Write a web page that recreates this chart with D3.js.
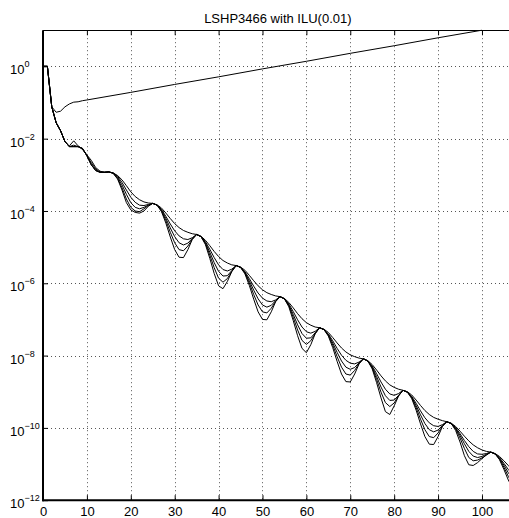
<!DOCTYPE html>
<html>
<head>
<meta charset="utf-8">
<script src="https://cdn.jsdelivr.net/npm/d3@7"></script>
<style>
  html, body { margin: 0; padding: 0; background: #fff; }
  svg { display: block; font-family: "Liberation Sans", Arial, Helvetica, sans-serif; }
</style>
</head>
<body>
<svg id="chart" width="509" height="518"></svg>
<script>
// ---- data -------------------------------------------------------------
const chartTitle = "LSHP3466 with ILU(0.01)";
const xTicks = [0, 10, 20, 30, 40, 50, 60, 70, 80, 90, 100];
const yTickExponents = [0, -2, -4, -6, -8, -10, -12];

// iteration index shared by the five converging runs
const iterations = d3.range(0, 108);

// log10 of the residual norm, one value per iteration
const residualA = [
  0, 0, -1.12, -1.56, -1.78, -2.08, -2.20, -2.06, -2.20, -2.30, -2.45, -2.60, -2.80, -2.90, -2.93,
  -2.92, -2.95, -3.02, -3.14, -3.30, -3.47, -3.60, -3.69, -3.75, -3.78, -3.79,
  -3.83, -3.92, -4.06, -4.21, -4.35, -4.46, -4.54, -4.59, -4.63, -4.65,
  -4.70, -4.81, -4.96, -5.12, -5.26, -5.37, -5.44, -5.49, -5.51,
  -5.55, -5.64, -5.78, -5.93, -6.07, -6.18, -6.26, -6.31, -6.35, -6.37,
  -6.42, -6.53, -6.68, -6.84, -6.98, -7.09, -7.16, -7.21, -7.23,
  -7.27, -7.36, -7.50, -7.65, -7.79, -7.90, -7.98, -8.03, -8.07, -8.09,
  -8.14, -8.25, -8.40, -8.56, -8.70, -8.81, -8.88, -8.93, -8.96,
  -9.00, -9.09, -9.23, -9.38, -9.52, -9.63, -9.71, -9.76, -9.80, -9.83,
  -9.87, -9.96, -10.09, -10.23, -10.36, -10.47, -10.55, -10.61, -10.65, -10.67,
  -10.71, -10.79, -10.91, -11.04, -11.17
];
const residualB = [
  0, 0, -1.12, -1.56, -1.78, -2.08, -2.22, -2.18, -2.22, -2.28, -2.47, -2.66, -2.84, -2.92, -2.93,
  -2.92, -2.95, -3.04, -3.21, -3.42, -3.62, -3.76, -3.84, -3.85, -3.82, -3.79,
  -3.84, -3.96, -4.15, -4.36, -4.55, -4.69, -4.77, -4.79, -4.74, -4.65,
  -4.71, -4.85, -5.06, -5.29, -5.49, -5.62, -5.66, -5.61, -5.51,
  -5.56, -5.68, -5.87, -6.08, -6.27, -6.41, -6.49, -6.51, -6.46, -6.37,
  -6.43, -6.57, -6.78, -7.01, -7.21, -7.34, -7.38, -7.33, -7.23,
  -7.28, -7.40, -7.59, -7.80, -7.99, -8.13, -8.21, -8.23, -8.18, -8.09,
  -8.15, -8.29, -8.50, -8.73, -8.93, -9.06, -9.10, -9.05, -8.96,
  -9.01, -9.13, -9.32, -9.53, -9.72, -9.86, -9.94, -9.96, -9.91, -9.83,
  -9.88, -9.99, -10.16, -10.35, -10.52, -10.65, -10.72, -10.73, -10.71, -10.67,
  -10.72, -10.82, -10.98, -11.15, -11.29
];
const residualC = [
  0, 0, -1.12, -1.56, -1.78, -2.08, -2.22, -2.22, -2.22, -2.27, -2.47, -2.72, -2.88, -2.93, -2.93,
  -2.92, -2.95, -3.07, -3.28, -3.54, -3.77, -3.90, -3.94, -3.90, -3.84, -3.79,
  -3.84, -3.98, -4.21, -4.47, -4.71, -4.88, -4.94, -4.89, -4.76, -4.65,
  -4.71, -4.88, -5.14, -5.43, -5.67, -5.80, -5.79, -5.65, -5.51,
  -5.56, -5.70, -5.93, -6.19, -6.43, -6.60, -6.66, -6.61, -6.48, -6.37,
  -6.43, -6.60, -6.86, -7.15, -7.39, -7.52, -7.51, -7.37, -7.23,
  -7.28, -7.42, -7.65, -7.91, -8.15, -8.32, -8.38, -8.33, -8.20, -8.09,
  -8.15, -8.32, -8.58, -8.87, -9.11, -9.24, -9.23, -9.10, -8.96,
  -9.01, -9.15, -9.38, -9.64, -9.88, -10.05, -10.11, -10.06, -9.93, -9.83,
  -9.88, -10.01, -10.21, -10.44, -10.65, -10.78, -10.82, -10.79, -10.73, -10.67,
  -10.72, -10.84, -11.03, -11.24, -11.41
];
const residualD = [
  0, 0, -1.12, -1.56, -1.78, -2.08, -2.22, -2.22, -2.22, -2.27, -2.47, -2.72, -2.88, -2.93, -2.93,
  -2.92, -2.96, -3.10, -3.36, -3.67, -3.90, -4.00, -4.02, -3.94, -3.85, -3.79,
  -3.84, -4.00, -4.27, -4.59, -4.88, -5.07, -5.10, -4.97, -4.78, -4.65,
  -4.71, -4.90, -5.22, -5.57, -5.86, -5.97, -5.87, -5.67, -5.51,
  -5.56, -5.72, -5.99, -6.31, -6.60, -6.79, -6.82, -6.69, -6.50, -6.37,
  -6.43, -6.62, -6.94, -7.29, -7.58, -7.69, -7.59, -7.39, -7.23,
  -7.28, -7.44, -7.71, -8.03, -8.32, -8.51, -8.54, -8.41, -8.22, -8.09,
  -8.15, -8.34, -8.66, -9.01, -9.30, -9.41, -9.31, -9.11, -8.96,
  -9.01, -9.17, -9.44, -9.76, -10.05, -10.24, -10.27, -10.14, -9.95, -9.83,
  -9.88, -10.03, -10.28, -10.57, -10.82, -10.91, -10.89, -10.83, -10.75, -10.67,
  -10.72, -10.86, -11.09, -11.34, -11.55
];
const residualE = [
  0, 0, -1.12, -1.56, -1.78, -2.08, -2.22, -2.22, -2.22, -2.27, -2.47, -2.72, -2.88, -2.93, -2.93,
  -2.92, -2.96, -3.12, -3.42, -3.77, -3.97, -4.04, -4.06, -4.00, -3.87, -3.79,
  -3.84, -4.02, -4.34, -4.72, -5.07, -5.28, -5.29, -5.07, -4.79, -4.65,
  -4.71, -4.93, -5.31, -5.73, -6.07, -6.15, -5.95, -5.68, -5.51,
  -5.56, -5.74, -6.06, -6.44, -6.79, -7.00, -7.01, -6.79, -6.51, -6.37,
  -6.43, -6.65, -7.03, -7.45, -7.80, -7.92, -7.70, -7.40, -7.23,
  -7.28, -7.46, -7.78, -8.16, -8.51, -8.72, -8.73, -8.51, -8.23, -8.09,
  -8.15, -8.37, -8.75, -9.17, -9.55, -9.63, -9.39, -9.12, -8.96,
  -9.01, -9.19, -9.51, -9.89, -10.24, -10.45, -10.46, -10.24, -9.96, -9.83,
  -9.88, -10.07, -10.39, -10.77, -11.02, -11.04, -10.96, -10.85, -10.75, -10.67,
  -10.72, -10.88, -11.15, -11.44, -11.67
];

// the run that stagnates and then grows
const divergingIters = [0, 1, 2, 3, 4, 5, 6, 7, 8, 9, 10, 20, 30, 40, 50, 60, 70, 80, 90, 100];
const divergingRes   = [0, 0, -1.12, -1.27, -1.24, -1.12, -1.04, -0.99, -0.98, -0.95, -0.93,
                        -0.72, -0.50, -0.29, -0.07, 0.14, 0.36, 0.57, 0.79, 1.00];

// ---- layout -----------------------------------------------------------
const plot = { left: 43, right: 512.7, top: 30.2, bottom: 500.2 };
const svg = d3.select("#chart");

const x = d3.scaleLinear().domain([0, 107]).range([plot.left, plot.right]);
const y = d3.scaleLinear().domain([-12, 1]).range([plot.bottom, plot.top]);
const px = v => Math.round(v) + 0.5;

svg.append("defs").append("clipPath").attr("id", "plotClip")
  .append("rect")
  .attr("x", plot.left).attr("y", plot.top - 1)
  .attr("width", plot.right - plot.left).attr("height", plot.bottom - plot.top + 1);

// dotted grid
const grid = svg.append("g").attr("stroke", "#555").attr("stroke-width", 1)
  .attr("stroke-dasharray", "1,3");
grid.selectAll("line.vx").data(xTicks.filter(d => d > 0)).join("line")
  .attr("x1", d => px(x(d))).attr("x2", d => px(x(d)))
  .attr("y1", plot.top).attr("y2", plot.bottom);
grid.selectAll("line.hy").data(yTickExponents.filter(d => d > -12)).join("line")
  .attr("y1", d => px(y(d))).attr("y2", d => px(y(d)))
  .attr("x1", plot.left).attr("x2", plot.right);

// curves
const line = d3.line().x(d => x(d[0])).y(d => y(d[1]));
const curves = svg.append("g").attr("clip-path", "url(#plotClip)")
  .attr("fill", "none").attr("stroke", "#000").attr("stroke-width", 1)
  .attr("stroke-linejoin", "round");

[residualA, residualB, residualC, residualD, residualE].forEach(series => {
  curves.append("path").attr("d", line(iterations.map((it, i) => [it, series[i]])));
});
curves.append("path").attr("d", line(divergingIters.map((it, i) => [it, divergingRes[i]])));

// axes
const xAxis = d3.axisBottom(x).tickValues(xTicks).tickSizeInner(-5).tickSizeOuter(0)
  .tickPadding(7).tickFormat(d3.format("d"));
const gx = svg.append("g").attr("transform", `translate(0,${plot.bottom})`).call(xAxis);
gx.select(".domain").remove();
gx.selectAll(".tick line").attr("stroke", "#000");
gx.selectAll(".tick text").attr("font-size", 13).attr("fill", "#000")
  .attr("font-family", "Liberation Sans, Arial, sans-serif");

const xTop = d3.axisTop(x).tickValues(xTicks).tickSizeInner(-5).tickSizeOuter(0).tickFormat("");
const gxt = svg.append("g").attr("transform", `translate(0,${plot.top})`).call(xTop);
gxt.select(".domain").remove();

const yAxis = d3.axisLeft(y).tickValues(yTickExponents).tickSizeInner(-5).tickSizeOuter(0).tickFormat("");
const gy = svg.append("g").attr("transform", `translate(${plot.left},0)`).call(yAxis);
gy.select(".domain").remove();

// y labels: base "10" with raised exponent
const yl = svg.append("g").attr("font-size", 13).attr("fill", "#000");
yTickExponents.forEach(e => {
  const t = yl.append("text").attr("x", 10).attr("y", y(e) + 8);
  t.append("tspan").text("10");
  t.append("tspan").attr("dy", -7).attr("font-size", 9)
    .text(e === 0 ? "0" : "\u2212" + Math.abs(e));
});

// frame: heavy left/bottom, light top
svg.append("line").attr("x1", plot.left).attr("x2", plot.left)
  .attr("y1", plot.top).attr("y2", plot.bottom + 1)
  .attr("stroke", "#000").attr("stroke-width", 2);
svg.append("line").attr("x1", plot.left - 1).attr("x2", plot.right)
  .attr("y1", plot.bottom).attr("y2", plot.bottom)
  .attr("stroke", "#000").attr("stroke-width", 2);
svg.append("line").attr("x1", plot.left).attr("x2", plot.right)
  .attr("y1", px(plot.top)).attr("y2", px(plot.top))
  .attr("stroke", "#000").attr("stroke-width", 1);

// title
svg.append("text").attr("x", (plot.left + plot.right) / 2).attr("y", 23)
  .attr("text-anchor", "middle").attr("font-size", 13).attr("fill", "#000")
  .text(chartTitle);
</script>
</body>
</html>
